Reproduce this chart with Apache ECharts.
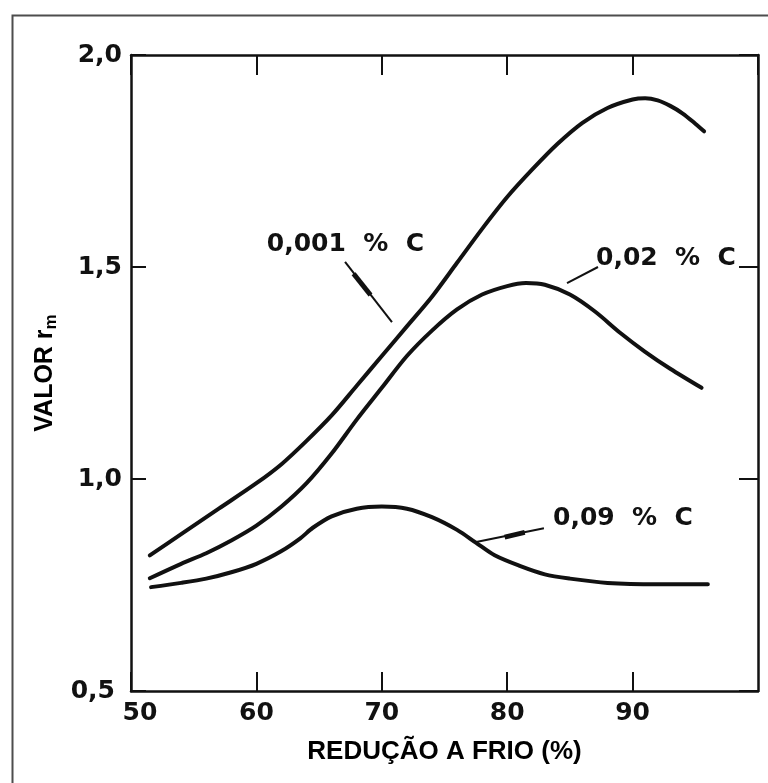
<!DOCTYPE html>
<html><head><meta charset="utf-8">
<script src="https://cdn.jsdelivr.net/npm/echarts@6/dist/echarts.min.js"></script>
<style>html,body{margin:0;padding:0;background:#fff}#c{width:768px;height:783px}</style>
</head><body><div id="c"></div>
<script>
// ---- data ----
const xTickValues = [50, 60, 70, 80, 90];
const yTickValues = [0.5, 1.0, 1.5, 2.0];
const xTitle = 'REDUÇÃO A FRIO (%)';
const yTitleMain = 'VALOR r';
const yTitleSub = 'm';

const curveC0001 = [[51.5,0.82],[54,0.87],[57,0.93],[60,0.99],[62,1.035],[64,1.09],[66,1.15],[68,1.22],[70,1.29],[72,1.36],[74,1.43],[76,1.51],[78,1.59],[80,1.665],[82,1.73],[84,1.79],[86,1.84],[88,1.875],[90,1.895],[91,1.898],[92,1.893],[93,1.88],[94,1.862],[95,1.838],[95.7,1.82]];
const curveC002 = [[51.5,0.766],[54,0.80],[56,0.825],[58,0.855],[60,0.89],[62,0.935],[64,0.99],[66,1.06],[68,1.14],[70,1.215],[72,1.29],[74,1.35],[76,1.40],[78,1.435],[80,1.455],[81.5,1.462],[83,1.458],[85,1.435],[87,1.395],[89,1.345],[91,1.30],[93,1.26],[95.5,1.215]];
const curveC009 = [[51.6,0.745],[54,0.755],[56,0.765],[58,0.78],[60,0.80],[62,0.83],[63.5,0.86],[64.5,0.885],[66,0.912],[68,0.93],[70,0.935],[72,0.93],[74,0.91],[76,0.88],[77.5,0.85],[79,0.82],[81,0.795],[83,0.775],[85,0.765],[88,0.755],[92,0.752],[96,0.752]];

const seriesNames = ['0,001 % C', '0,02 % C', '0,09 % C'];
const labelAnchors = [[67.1,1.554],[92.66,1.521],[89.23,0.906]];
const leaderLines = [
  [[67.07,1.512],[70.81,1.37]],
  [[87.24,1.50],[84.77,1.462]],
  [[82.93,0.884],[77.43,0.851]]
];
const leaderHeads = [
  [[67.75,1.484],[69.1,1.434]],
  [[79.8,0.863],[81.4,0.874]]
];

// ---- chart ----
const INK = '#111';
const tickFont = {fontFamily:'DejaVu Sans', fontWeight:'bold', fontSize:25, color:INK};
const chart = echarts.init(document.getElementById('c'), null, {renderer:'canvas'});

const fmtY = v => v.toFixed(1).replace('.', ',');

const axisLineStyle = {show:true, lineStyle:{color:INK, width:2.5}};

const curveSeries = [curveC0001, curveC002, curveC009].map((d, i) => ({
  name: seriesNames[i],
  type: 'line',
  data: d,
  smooth: 0.3,
  symbol: 'none',
  lineStyle: {color: INK, width: 4, cap: 'round', join: 'round'},
  silent: true,
  z: 3
}));

const annoSeries = {
  type: 'line',
  data: [],
  symbol: 'none',
  silent: true,
  markLine: {
    silent: true,
    symbol: ['none','none'],
    label: {show:false},
    lineStyle: {color: INK, width: 2, type: 'solid'},
    data: leaderLines.map(l => [{coord:l[0]}, {coord:l[1]}])
      .concat(leaderHeads.map(l => [{coord:l[0], lineStyle:{width:5, color:INK}}, {coord:l[1]}]))
  },
  markPoint: {
    silent: true,
    data: labelAnchors.map((p, i) => ({
      coord: p,
      symbol: 'circle',
      symbolSize: 0,
      label: {show:true, position:'inside', formatter: seriesNames[i].replace(/ /g,'  '),
              fontFamily:'DejaVu Sans', fontWeight:'bold', fontSize:25, color:INK}
    }))
  }
};

chart.setOption({
  animation: false,
  backgroundColor: '#fff',
  grid: {left:131, right:10, top:55, bottom:92, containLabel:false},
  xAxis: [{
    type:'value', min:50, max:100, interval:10, position:'bottom',
    axisLine: axisLineStyle,
    axisTick: {show:true, inside:true, length:19, lineStyle:{color:INK, width:2}},
    splitLine: {show:false},
    axisLabel: {
      margin: 10, showMaxLabel:false,
      formatter: v => v === 50 ? '{s|50}' : (xTickValues.indexOf(v) >= 0 ? String(v) : ''),
      rich: {s: Object.assign({padding:[0,0,0,18]}, tickFont)},
      ...tickFont
    },
    name: xTitle, nameLocation:'middle', nameGap: 48,
    nameTextStyle: {fontFamily:'Liberation Sans', fontWeight:'bold', fontSize:26, color:'#000'}
  },{
    type:'value', min:50, max:100, interval:10, position:'top',
    axisLine: axisLineStyle,
    axisTick: {show:true, inside:true, length:20, lineStyle:{color:INK, width:2}},
    splitLine: {show:false}, axisLabel:{show:false}
  }],
  yAxis: [{
    type:'value', min:0.5, max:2.0, interval:0.5, position:'left',
    axisLine: axisLineStyle,
    axisTick: {show:true, inside:true, length:15, lineStyle:{color:INK, width:2}},
    splitLine: {show:false},
    axisLabel: {
      margin: 9,
      formatter: v => yTickValues.some(t => Math.abs(t - v) < 1e-9) ? (v === 0.5 ? '{p|' + fmtY(v) + '}' : fmtY(v)) : '',
      rich: {p: Object.assign({padding:[0,7,0,0]}, tickFont)},
      ...tickFont
    },
    name: '{a|' + yTitleMain + '}{b|' + yTitleSub + '}',
    nameLocation:'middle', nameGap: 67, nameRotate: 90,
    nameTextStyle: {
      rich: {
        a: {fontFamily:'Liberation Sans', fontWeight:'bold', fontSize:25, color:'#000', lineHeight:30},
        b: {fontFamily:'Liberation Sans', fontWeight:'bold', fontSize:17, color:'#000', verticalAlign:'bottom', lineHeight:22}
      }
    }
  },{
    type:'value', min:0.5, max:2.0, interval:0.5, position:'right',
    axisLine: axisLineStyle,
    axisTick: {show:true, inside:true, length:19, lineStyle:{color:INK, width:2}},
    splitLine: {show:false}, axisLabel:{show:false}
  }],
  graphic: [{
    type:'rect', left:10, top:13, silent:true,
    shape:{width:775, height:790},
    style:{fill:'none', stroke:'#4d4d4d', lineWidth:2}
  }],
  series: curveSeries.concat([annoSeries])
});
</script>
</body></html>
